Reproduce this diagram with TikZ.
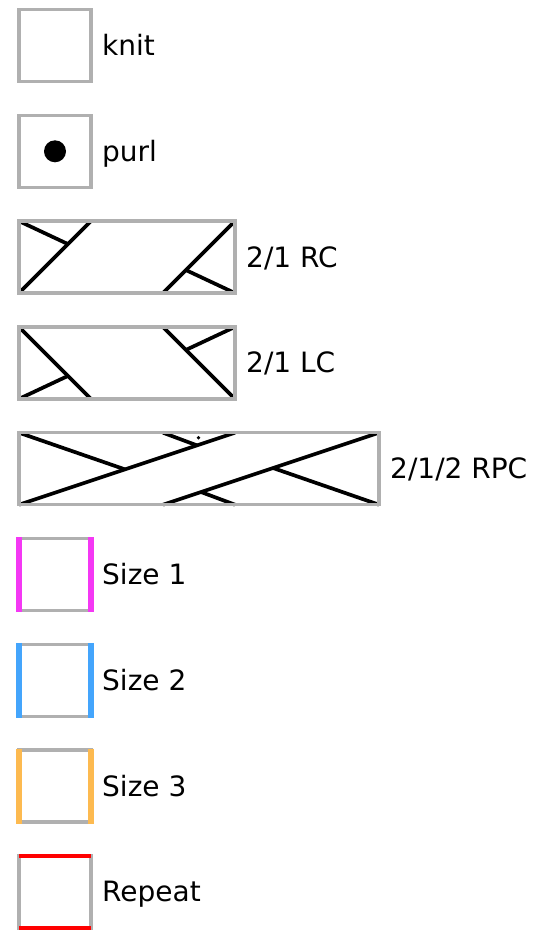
\documentclass[tikz,border=0pt]{standalone}
\usepackage{fontspec}
\setmainfont{DejaVu Sans}
\definecolor{boxgray}{RGB}{176,176,176}
\definecolor{sizeone}{RGB}{244,56,244}
\definecolor{sizetwo}{RGB}{68,165,252}
\definecolor{sizethree}{RGB}{253,186,80}
\definecolor{repeatred}{RGB}{255,0,0}

\begin{document}
\begin{tikzpicture}[x=1pt,y=-1pt,
  cell/.style={draw=boxgray,line width=3.3pt},
  strand/.style={line width=3.7pt},
  sizebar/.style={line width=6.5pt},
  lbl/.style={anchor=base west,inner sep=0pt,font=\fontsize{28}{33}\selectfont}]
\useasboundingbox (0,0) rectangle (543,934);

% knit and purl
\draw[cell] (19,9.5) rectangle +(72,72);
\node[lbl] (knit) at (102,55.5) {knit};
\fill (55,151.3) circle (11);
\draw[cell] (19,115.3) rectangle +(72,72);
\node[lbl] (purl) at (102,161.3) {purl};

% 2/1 RC
\begin{scope}[shift={(19,221.1)}]
\draw[strand] (0,72) -- (72,0);
\draw[strand] (0,0) -- (49,23);
\draw[strand] (144,72) -- (216,0);
\draw[strand] (216,72) -- (167,49);
\draw[cell] (0,0) rectangle (216,72);
\end{scope}
\node[lbl] (rc) at (246,267.1) {2/1 RC};

% 2/1 LC
\begin{scope}[shift={(19,326.9)}]
\draw[strand] (0,0) -- (72,72);
\draw[strand] (0,72) -- (49,49);
\draw[strand] (144,0) -- (216,72);
\draw[strand] (216,0) -- (167,23);
\draw[cell] (0,0) rectangle (216,72);
\end{scope}
\node[lbl] (lc) at (246,372.9) {2/1 LC};

% 2/1/2 RPC
\begin{scope}[shift={(19,432.7)}]
\draw[strand] (0,72) -- (216,0);
\draw[strand] (144,72) -- (360,0);
\draw[strand] (0,0) -- (106,36.7);
\draw[strand] (360,72) -- (254,35.3);
\draw[strand] (144,0) -- (178,12.7);
\draw[strand] (216,72) -- (182,59.3);
\fill (179.5,5) circle (1.8);
\draw[cell] (0,0) rectangle (360,72);
\end{scope}
\node[lbl] (rpc) at (390,478.7) {2/1/2 RPC};

% sizes
\draw[cell] (19,538.5) rectangle +(72,72);
\draw[sizebar,sizeone] (19,537) -- (19,612) (91,537) -- (91,612);
\node[lbl] (size1) at (102,584.5) {Size 1};

\draw[cell] (19,644.3) rectangle +(72,72);
\draw[sizebar,sizetwo] (19,642.8) -- (19,717.8) (91,642.8) -- (91,717.8);
\node[lbl] (size2) at (102,690.3) {Size 2};

\draw[cell] (19,750.1) rectangle +(72,72);
\draw[sizebar,sizethree] (19,748.6) -- (19,823.6) (91,748.6) -- (91,823.6);
\node[lbl] (size3) at (102,796.1) {Size 3};

% repeat
\draw[cell] (19,855.9) rectangle +(72,72);
\draw[line width=4pt,repeatred] (19,855.9) -- (91,855.9) (19,927.9) -- (91,927.9);
\node[lbl] (repeat) at (102,901.9) {Repeat};
\end{tikzpicture}
\end{document}
